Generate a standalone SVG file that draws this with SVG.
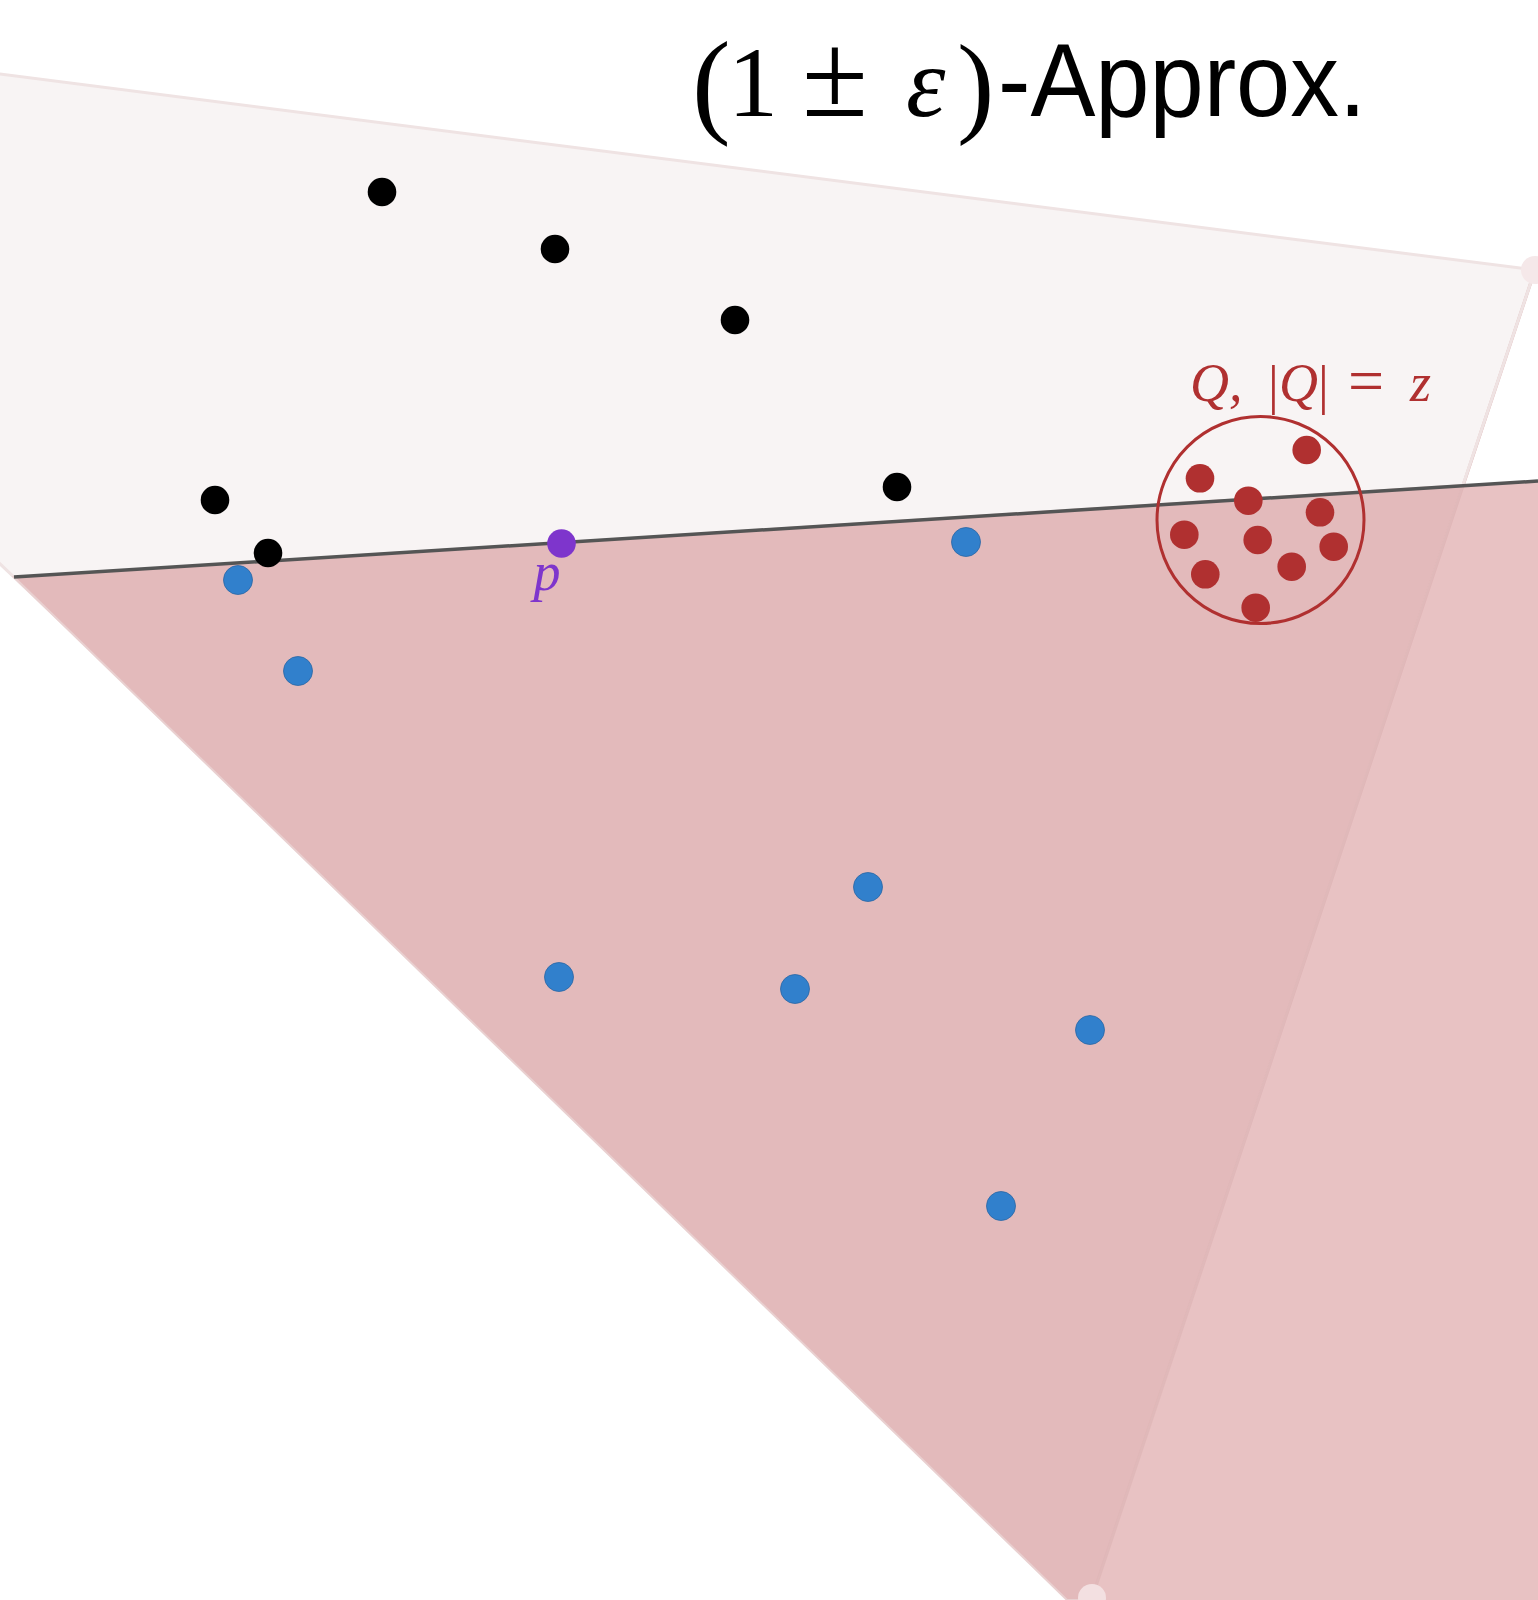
<svg xmlns="http://www.w3.org/2000/svg" width="1538" height="1600" viewBox="0 0 1538 1600">
<style>
.blk{fill:#000}
.blu{fill:#3180cc;stroke:#2b66a3;stroke-width:0.8}
.red{fill:#b03030}
.math{font-family:"Liberation Serif","DejaVu Serif",serif}
.it{font-style:italic}
</style>
<rect width="1538" height="1600" fill="#ffffff"/>
<g id="regions">
<polygon id="halfA" points="-40,69 1535,270 1092,1598 -40,526" fill="#f8f4f4" stroke="#efe3e3" stroke-width="3"/>
<polygon id="halfB-only" points="1463,485 1538,481 1538,1600 1067,1600" fill="#e8c2c3"/>
<polygon id="intersection" points="14,577 1463,485 1092,1598 1084,1600 1067,1600" fill="#e3babb" stroke="#e9d0d0" stroke-width="2"/>
<line x1="1535" y1="270" x2="1092" y2="1598" stroke="#dfb4b5" stroke-width="3" opacity="0.8"/>
<line x1="1535" y1="270" x2="1463" y2="485" stroke="#efe3e3" stroke-width="3"/>
<circle cx="1535" cy="270" r="14" fill="#f5e8e9"/>
<circle cx="1092" cy="1598" r="14" fill="#f3e0e1"/>
</g>
<g id="connectors">
<line x1="14" y1="577" x2="1538" y2="481" stroke="#555555" stroke-width="3.5"/>
<circle cx="1260.5" cy="520" r="103.5" fill="none" stroke="#b03030" stroke-width="3"/>
</g>
<g id="black-points">
<circle id="b1" class="blk" cx="382" cy="192" r="14.3"/>
<circle id="b2" class="blk" cx="555" cy="249" r="14.3"/>
<circle id="b3" class="blk" cx="735" cy="320" r="14.3"/>
<circle id="b4" class="blk" cx="215" cy="500" r="14.3"/>
<circle id="b5" class="blk" cx="268" cy="553" r="14.3"/>
<circle id="b6" class="blk" cx="897" cy="487" r="14.3"/>
</g>
<g id="blue-points">
<circle id="u1" class="blu" cx="238" cy="580" r="14.5"/>
<circle id="u2" class="blu" cx="298" cy="671" r="14.5"/>
<circle id="u3" class="blu" cx="966" cy="542" r="14.5"/>
<circle id="u4" class="blu" cx="868" cy="887" r="14.5"/>
<circle id="u5" class="blu" cx="559" cy="977" r="14.5"/>
<circle id="u6" class="blu" cx="795" cy="989" r="14.5"/>
<circle id="u7" class="blu" cx="1090" cy="1030" r="14.5"/>
<circle id="u8" class="blu" cx="1001" cy="1206" r="14.5"/>
</g>
<g id="Q-points">
<circle class="red" cx="1306.7" cy="450" r="14.3"/>
<circle class="red" cx="1200" cy="478.3" r="14.3"/>
<circle class="red" cx="1248.3" cy="500.7" r="14.3"/>
<circle class="red" cx="1320" cy="512.3" r="14.3"/>
<circle class="red" cx="1184.3" cy="534.7" r="14.3"/>
<circle class="red" cx="1257.7" cy="540" r="14.3"/>
<circle class="red" cx="1333.7" cy="546.7" r="14.3"/>
<circle class="red" cx="1291.7" cy="566.7" r="14.3"/>
<circle class="red" cx="1205.3" cy="574.3" r="14.3"/>
<circle class="red" cx="1255.7" cy="607.7" r="14.3"/>
</g>
<g id="p-point">
<circle cx="561.5" cy="543.5" r="14.3" fill="#7e35cc"/>
<text class="math it" x="547" y="590" font-size="54" fill="#7e35cc" text-anchor="middle">p</text>
</g>
<g id="Q-label" fill="#b03030" font-size="54">
<text class="math it" x="1190" y="401">Q,</text>
<text class="math" x="1268" y="403">|</text>
<text class="math it" x="1279" y="401">Q</text>
<text class="math" x="1318" y="403">|</text>
<text class="math" x="1348" y="402" font-size="64">=</text>
<text class="math it" x="1410" y="401">z</text>
</g>
<g id="title" fill="#000">
<text class="math" x="692" y="122" font-size="116">(</text>
<text class="math" x="728" y="116" font-size="100">1</text>
<text class="math" x="802" y="116" font-size="120">±</text>
<text class="math it" x="906" y="116" font-size="100">ε</text>
<text class="math" x="957" y="122" font-size="112">)</text>
<text x="998" y="116" font-family="'Liberation Sans','DejaVu Sans',sans-serif" font-size="104" textLength="368" lengthAdjust="spacingAndGlyphs">-Approx.</text>
</g>
</svg>
